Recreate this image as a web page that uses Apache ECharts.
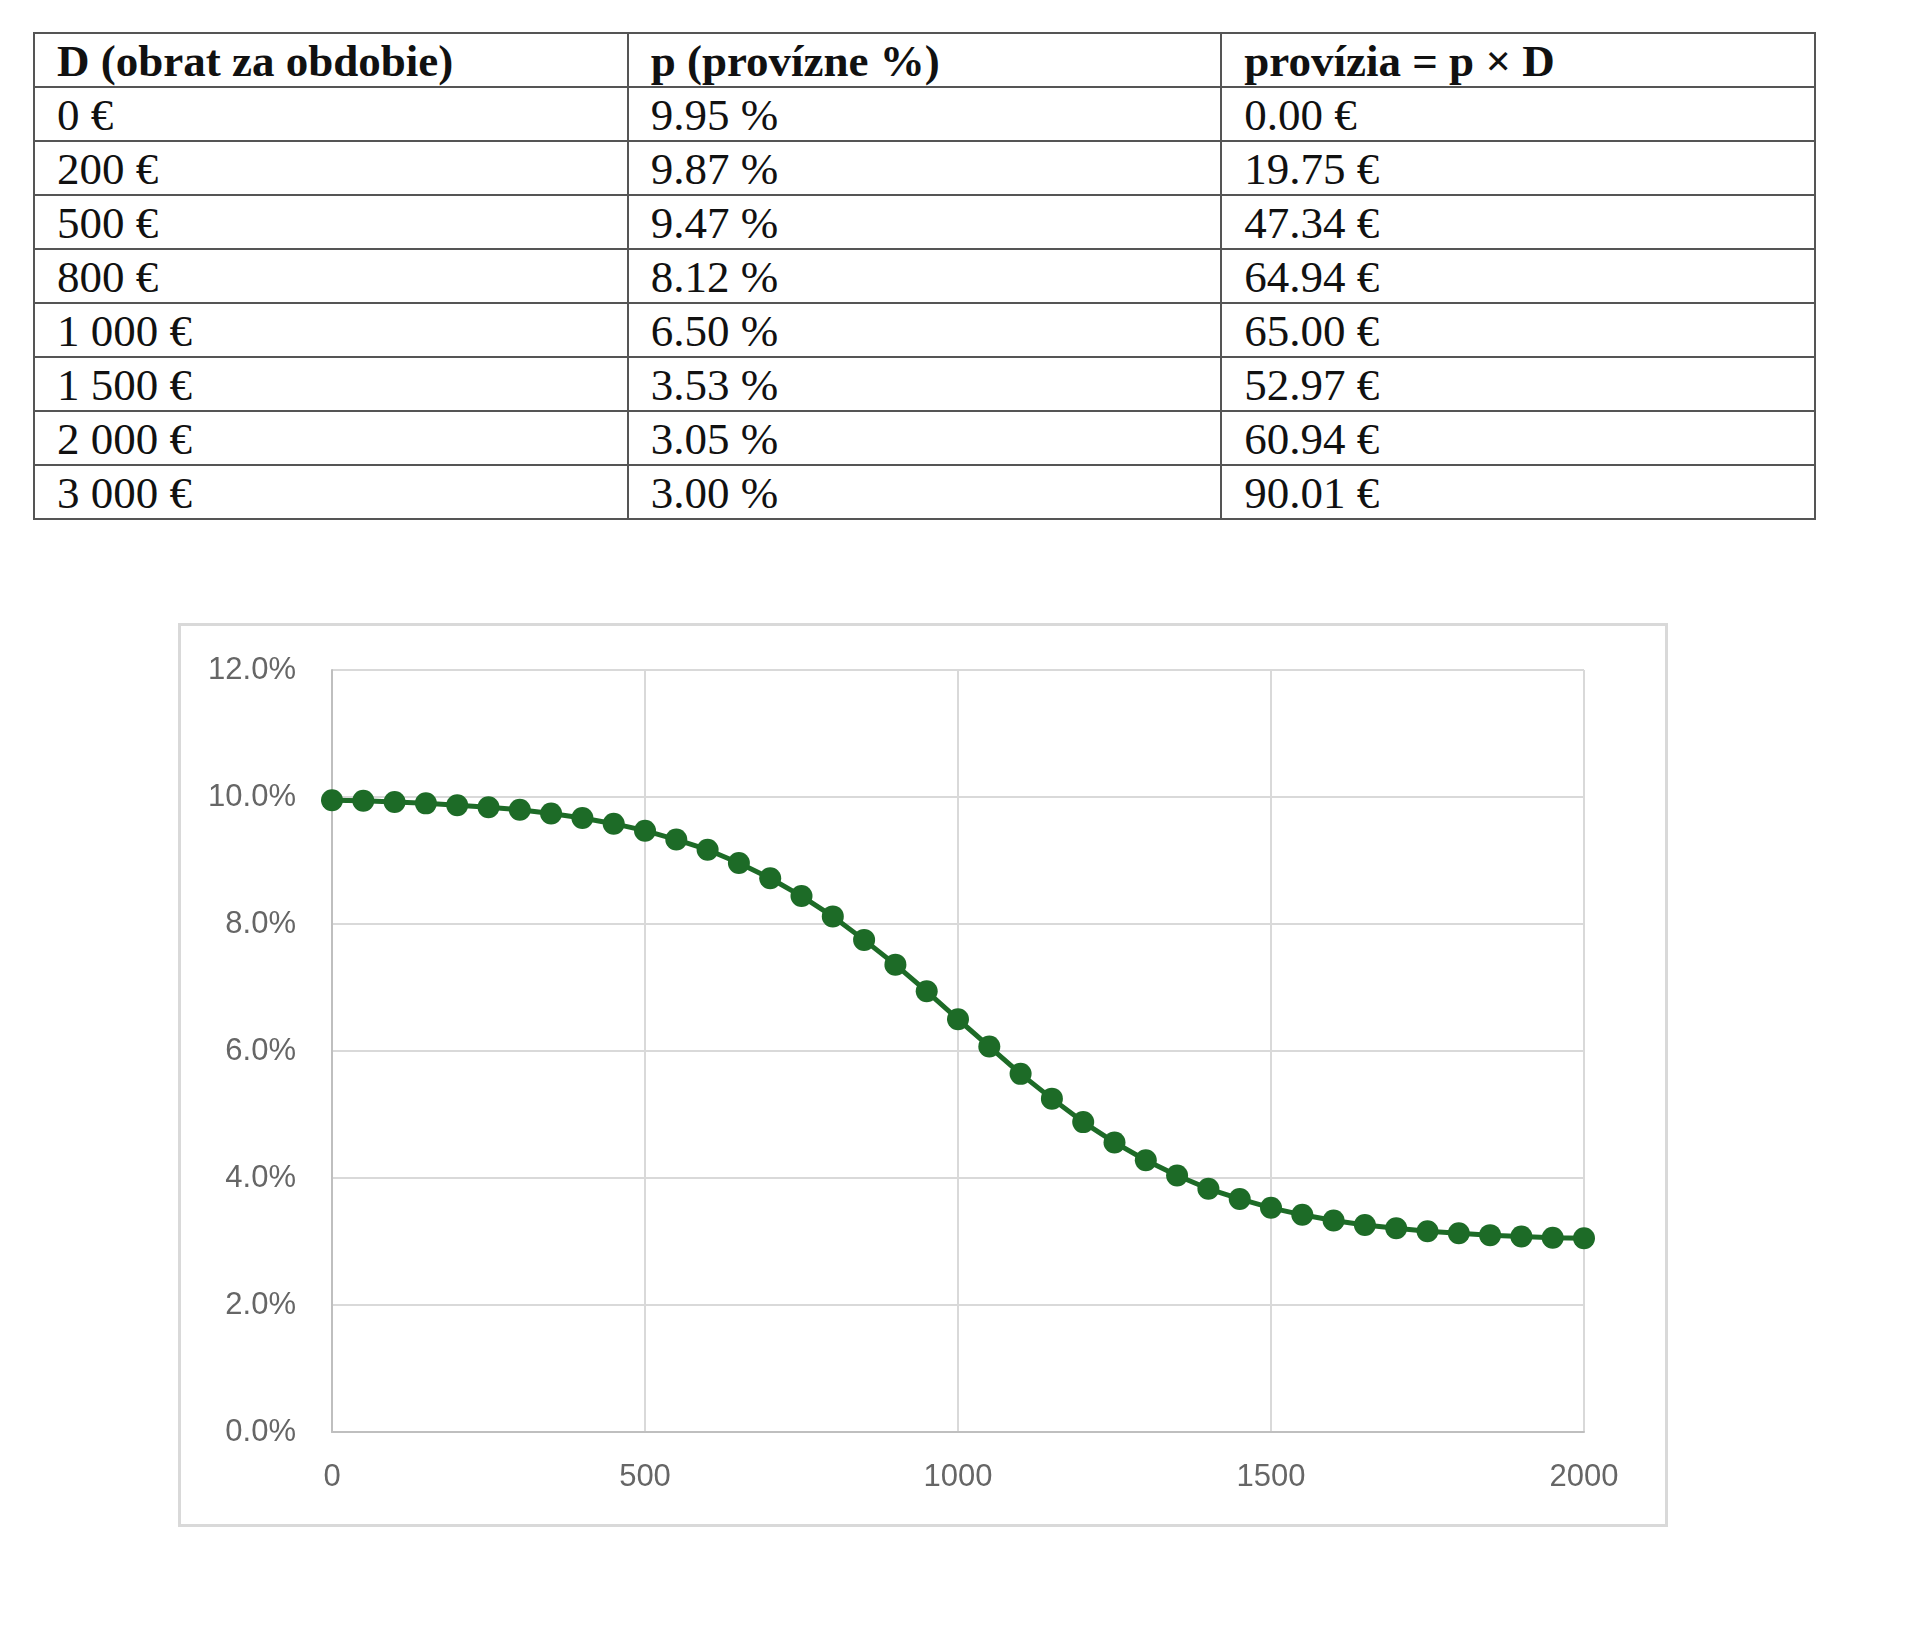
<!DOCTYPE html>
<html>
<head>
<meta charset="utf-8">
<script src="https://cdn.jsdelivr.net/npm/echarts@6/dist/echarts.min.js"></script>
<style>
  html, body { margin: 0; padding: 0; background: #fff; }
  body { width: 1920px; height: 1639px; position: relative; overflow: hidden; }
  #tbl {
    position: absolute; left: 33px; top: 32px; width: 1783px;
    border-collapse: collapse; table-layout: fixed;
    font-family: "Liberation Serif", "Times New Roman", serif;
    font-size: 45px; color: #111;
  }
  #tbl td, #tbl th {
    border: 2px solid #555; height: 50px; line-height: 50px;
    padding: 2px 0 0 22px; text-align: left; white-space: nowrap;
  }
  #tbl th { font-weight: bold; }
  #frame {
    position: absolute; left: 178px; top: 623px; width: 1484px; height: 898px;
    border: 3px solid #d9d9d9;
  }
  #chart { position: absolute; left: 178px; top: 623px; width: 1490px; height: 904px; }
</style>
</head>
<body>
<table id="tbl"></table>
<div id="frame"></div>
<div id="chart"></div>
<script>
// table contents
const headers = ['D (obrat za obdobie)', 'p (provízne %)', 'provízia = p × D'];
const tableTurnover = ['0 €', '200 €', '500 €', '800 €', '1 000 €', '1 500 €', '2 000 €', '3 000 €'];
const tableRate = ['9.95 %', '9.87 %', '9.47 %', '8.12 %', '6.50 %', '3.53 %', '3.05 %', '3.00 %'];
const tableCommission = ['0.00 €', '19.75 €', '47.34 €', '64.94 €', '65.00 €', '52.97 €', '60.94 €', '90.01 €'];

// chart series: turnover D and provision rate p (%)
const turnover = [0, 50, 100, 150, 200, 250, 300, 350, 400, 450, 500, 550, 600, 650, 700, 750,
  800, 850, 900, 950, 1000, 1050, 1100, 1150, 1200, 1250, 1300, 1350, 1400, 1450, 1500,
  1550, 1600, 1650, 1700, 1750, 1800, 1850, 1900, 1950, 2000];
const rate = [9.95, 9.94, 9.92, 9.90, 9.87, 9.84, 9.80, 9.74, 9.67, 9.58, 9.47, 9.33, 9.17, 8.96,
  8.72, 8.44, 8.12, 7.75, 7.36, 6.94, 6.50, 6.07, 5.64, 5.25, 4.88, 4.56, 4.28, 4.04, 3.83,
  3.67, 3.53, 3.42, 3.33, 3.26, 3.21, 3.16, 3.13, 3.10, 3.08, 3.06, 3.05];

// build the table
const tbl = document.getElementById('tbl');
let html = '<tr>' + headers.map(h => '<th>' + h + '</th>').join('') + '</tr>';
tableTurnover.forEach((d, i) => {
  html += '<tr><td>' + d + '</td><td>' + tableRate[i] + '</td><td>' + tableCommission[i] + '</td></tr>';
});
tbl.innerHTML = html;

const chart = echarts.init(document.getElementById('chart'), null, { renderer: 'canvas' });

const labelFont = {
  color: '#666', fontSize: 31, fontFamily: 'Liberation Sans, Arial, sans-serif'
};

const option = {
  animation: false,
  grid: { left: 154, top: 47, right: 84, bottom: 95, containLabel: false },
  xAxis: {
    type: 'value', min: 0, max: 2000, interval: 500,
    axisLine: { show: true, lineStyle: { color: '#bfbfbf', width: 2 } },
    axisTick: { show: false },
    axisLabel: Object.assign({ margin: 30, formatter: v => String(v) }, labelFont),
    splitLine: { show: true, lineStyle: { color: '#d9d9d9', width: 2 } }
  },
  yAxis: {
    type: 'value', min: 0, max: 12, interval: 2,
    axisLine: { show: true, lineStyle: { color: '#bfbfbf', width: 2 } },
    axisTick: { show: false },
    axisLabel: Object.assign({ margin: 36, formatter: v => v.toFixed(1) + '%' }, labelFont),
    splitLine: { show: true, lineStyle: { color: '#d9d9d9', width: 2 } }
  },
  series: [{
    type: 'line',
    data: turnover.map((d, i) => [d, rate[i]]),
    symbol: 'circle',
    symbolSize: 22,
    showSymbol: true,
    lineStyle: { color: '#1d6b27', width: 5 },
    itemStyle: { color: '#1d6b27' },
    clip: false
  }]
};

chart.setOption(option);
</script>
</body>
</html>
